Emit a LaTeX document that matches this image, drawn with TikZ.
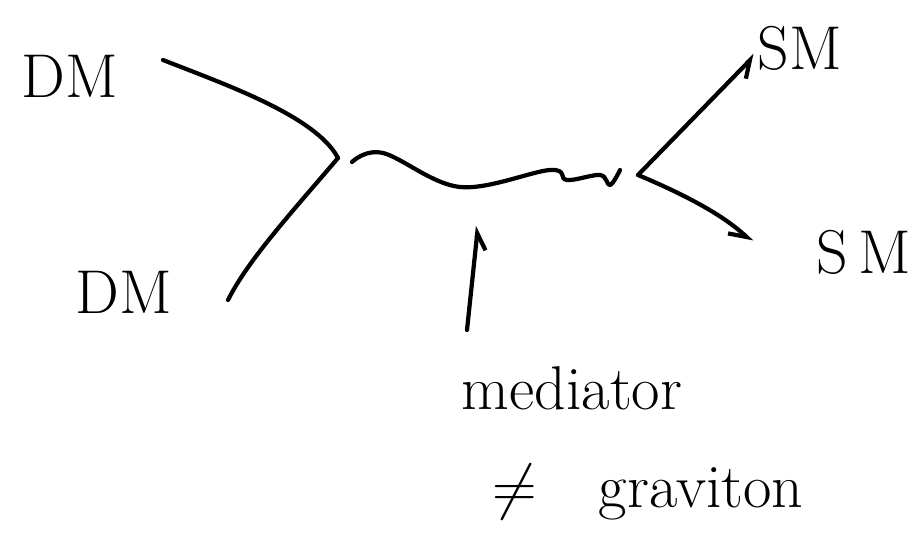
\RequirePackage{fix-cm}
\documentclass[tikz,border=0pt]{standalone}
\usepackage{amsmath}
\usetikzlibrary{arrows.meta}

\begin{document}
\begin{tikzpicture}[
  pen/.style={line width=3pt, line cap=round, line join=round},
  hand/.style={font=\fontsize{44}{52}\selectfont, inner sep=0pt},
  barb/.style={-{Straight Barb[harpoon,swap,length=4mm,width=5mm,line width=3pt]}}
]

  % --- Frame ---
  \useasboundingbox (0,0) rectangle (23.1,-13.775);

  % --- Labels ---
  \node[hand] (dmA) at (1.75,-1.9) {DM};
  \node[hand] (dmB) at (3.1,-7.3) {DM};
  \node[hand] (smA) at (20.0,-1.2) {SM};
  \node[hand] (smB) at (21.6,-6.3) {S\,M};
  \node[hand] (med) at (14.3,-9.7) {mediator};
  \node[hand] (grav) at (16.2,-12.3) {$\neq$\quad graviton};

  % --- Points ---
  \coordinate (inA)  at (4.075,-1.5);
  \coordinate (inB)  at (5.7,-7.5);
  \coordinate (vL)   at (8.45,-3.95);
  \coordinate (vR)   at (15.95,-4.375);
  \coordinate (outA) at (18.875,-1.375);
  \coordinate (outB) at (18.8,-6.05);
  \coordinate (wS)   at (8.8,-4.05);
  \coordinate (wE)   at (15.5,-4.25);
  \coordinate (foot) at (11.675,-8.25);
  \coordinate (tip)  at (11.95,-5.65);

  % --- Incoming DM lines ---
  \draw[pen] (inA) .. controls (5.6,-2.1) and (7.9,-2.9) .. (vL);
  \draw[pen] (vL) .. controls (7.3,-5.3) and (6.2,-6.5) .. (inB);

  % --- Mediator (wavy) ---
  \draw[pen] plot[smooth, tension=0.6] coordinates
    {(wS) (9.575,-3.825) (11.5,-4.675) (13.75,-4.25) (14.175,-4.5)
     (15.0,-4.375) (15.25,-4.625) (wE)};

  % --- Outgoing SM lines ---
  \draw[pen, barb] (vR) -- (outA);
  \draw[pen, barb] (vR) .. controls (17.2,-4.9) and (18.1,-5.4) .. (outB);

  % --- Pointer to mediator ---
  \draw[pen, barb] (foot) -- (tip);

\end{tikzpicture}
\end{document}
